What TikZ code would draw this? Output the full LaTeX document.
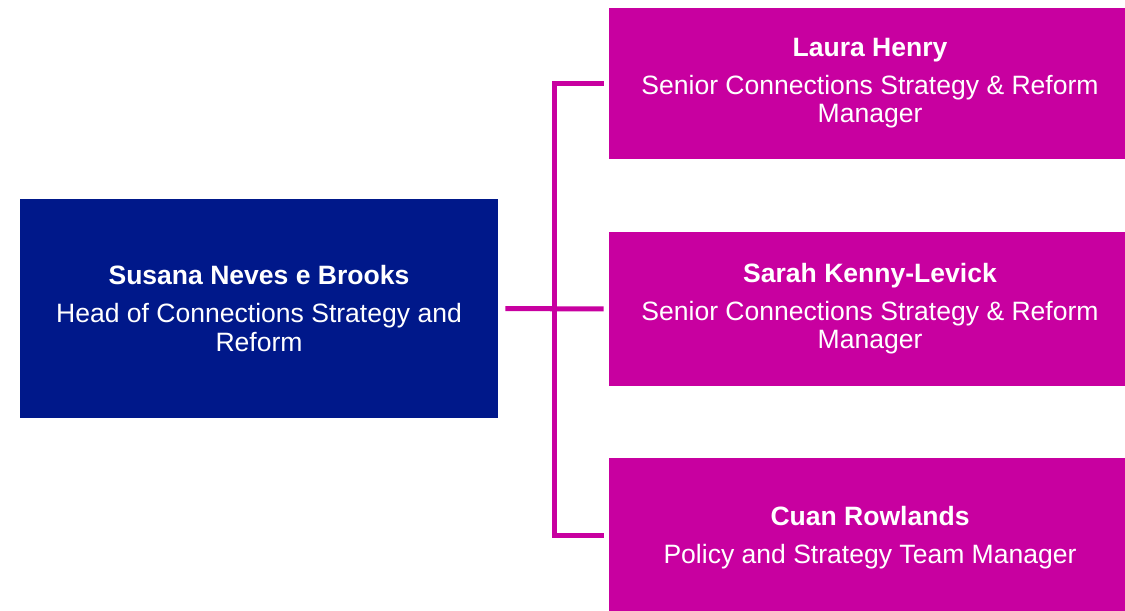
\documentclass[tikz,border=0pt]{standalone}
\usepackage{fontspec}
\setmainfont{Liberation Sans}
\usepackage{tikz}
\usetikzlibrary{positioning}
\usepackage{xcolor}
\definecolor{HeadBlue}{RGB}{0,24,138}
\definecolor{TeamPink}{RGB}{200,0,160}

\tikzset{
    person/.style={rectangle, text=white, align=center, inner sep=0pt,
        font=\fontsize{15.1}{16}\selectfont},
    headbox/.style={person, fill=HeadBlue, minimum width=9.56cm, minimum height=4.38cm},
    teambox/.style={person, fill=TeamPink, minimum width=10.44cm},
    link/.style={draw=TeamPink, line width=2.85pt}
}

\begin{document}
\begin{tikzpicture}
    \useasboundingbox (0,0) rectangle (22.5,-12.2);

    % Draw the head of the team
    \node[headbox] (Head) at (5.18,-6.17) {\textbf{Susana Neves e Brooks}\\[0.2cm]Head of Connections Strategy and\\Reform};

    % Draw the team members
    \node[teambox, minimum height=3.02cm] (Laura) at (17.40,-1.67) {\textbf{Laura Henry}\\[0.2cm]Senior Connections Strategy \& Reform\\Manager};
    \node[teambox, minimum height=3.08cm] (Sarah) at (17.40,-6.18) {\textbf{Sarah Kenny-Levick}\\[0.2cm]Senior Connections Strategy \& Reform\\Manager};
    \node[teambox, minimum height=3.2cm] (Cuan) at (17.40,-10.76) {\textbf{Cuan Rowlands}\\[0.2cm]Policy and Strategy Team Manager};

    % Connect the head to the team
    \coordinate (Spine) at (11.08,0);
    \coordinate (CuanIn) at ([yshift=0.06cm]Cuan.west);
    \draw[link, shorten <=0.14cm, shorten >=0.1cm] (Head.east) -- (Sarah.west);
    \draw[link, shorten <=0.1cm, shorten >=0.1cm] (Laura.west) -| (Spine |- CuanIn) -- (CuanIn);
\end{tikzpicture}
\end{document}
